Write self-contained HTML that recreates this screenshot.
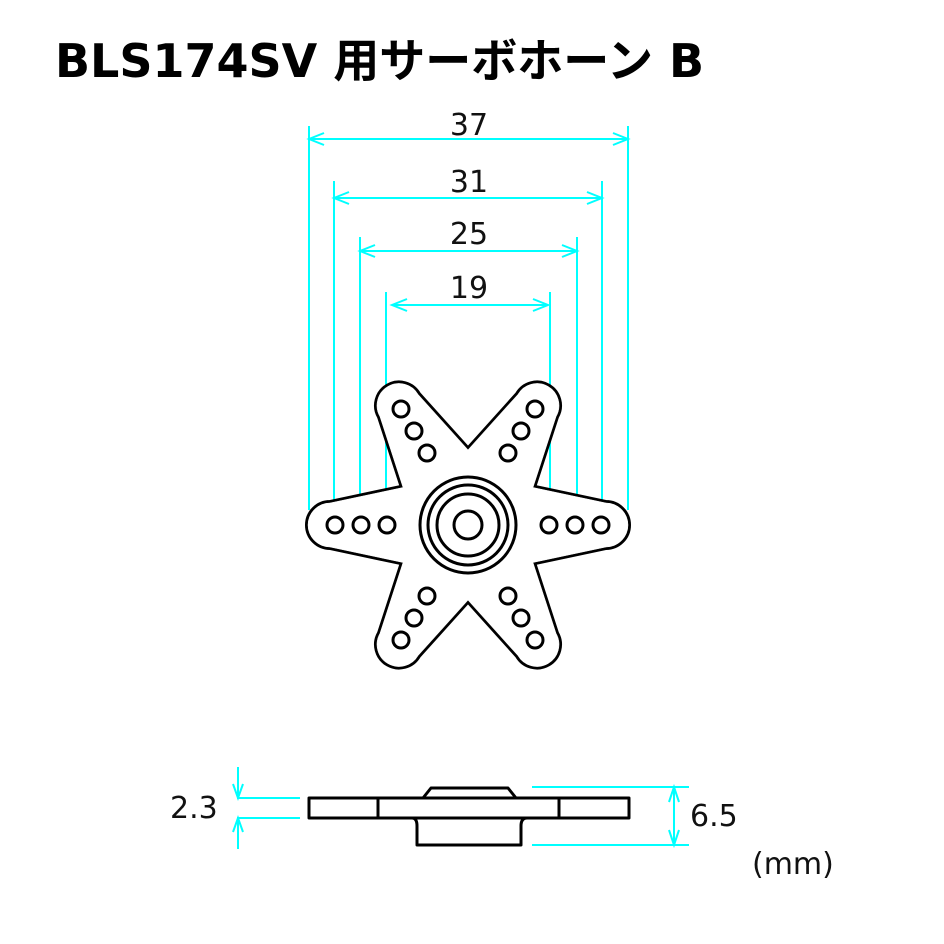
<!DOCTYPE html>
<html><head><meta charset="utf-8"><style>
html,body{margin:0;padding:0;background:#fff;}
svg{display:block}
</style></head><body>
<svg width="944" height="944" viewBox="0 0 944 944" xmlns="http://www.w3.org/2000/svg">
<text x="55" y="77" font-family="'DejaVu Sans','Noto Sans CJK JP',sans-serif" font-weight="bold" font-size="46" fill="#000">BLS174SV 用サーボホーン B</text>

<g stroke="#00ffff" stroke-width="2" fill="none">
<line x1="309" y1="126" x2="309" y2="510"/><line x1="628" y1="126" x2="628" y2="510"/>
<line x1="334" y1="181" x2="334" y2="500"/><line x1="602" y1="181" x2="602" y2="500"/>
<line x1="360" y1="237" x2="360" y2="500"/><line x1="577" y1="237" x2="577" y2="500"/>
<line x1="386" y1="292" x2="386" y2="495"/><line x1="550" y1="292" x2="550" y2="495"/>
<line x1="309" y1="139" x2="628" y2="139"/><polyline points="324,133 309,139 324,145"/><polyline points="613,133 628,139 613,145"/>
<line x1="334" y1="198" x2="602" y2="198"/><polyline points="349,192 334,198 349,204"/><polyline points="587,192 602,198 587,204"/>
<line x1="360" y1="251" x2="577" y2="251"/><polyline points="375,245 360,251 375,257"/><polyline points="562,245 577,251 562,257"/>
<line x1="392" y1="305" x2="548" y2="305"/><polyline points="407,299 392,305 407,311"/><polyline points="533,299 548,305 533,311"/>
<line x1="237" y1="798" x2="300" y2="798"/><line x1="237" y1="818" x2="300" y2="818"/>
<line x1="238" y1="767" x2="238" y2="798"/><polyline points="233,784 238,798 243,784"/>
<line x1="238" y1="818" x2="238" y2="849"/><polyline points="233,832 238,818 243,832"/>
<line x1="532" y1="787" x2="689" y2="787"/><line x1="532" y1="845" x2="689" y2="845"/>
<line x1="674" y1="787" x2="674" y2="845"/><polyline points="669,802 674,787 679,802"/><polyline points="669,830 674,845 679,830"/>
</g>
<g font-family="'DejaVu Sans',sans-serif" font-size="30" fill="#111" text-anchor="middle">
<text x="469" y="135">37</text><text x="469" y="192">31</text><text x="469" y="244">25</text><text x="469" y="298">19</text>
</g>
<g font-family="'DejaVu Sans',sans-serif" font-size="30" fill="#111">
<text x="170" y="818">2.3</text><text x="690" y="826">6.5</text><text x="752" y="874">(mm)</text>
</g>

<defs><path id="arm" d="M0,-40 L65,-37.5 L138,-22 A22,22 0 0 1 138,22 L65,37.5 L0,40 Z"/></defs>
<g transform="translate(468,525)">
<g fill="#000" stroke="#000" stroke-width="6" stroke-linejoin="round">
<use href="#arm" transform="rotate(0)"/><use href="#arm" transform="rotate(60)"/><use href="#arm" transform="rotate(120)"/>
<use href="#arm" transform="rotate(180)"/><use href="#arm" transform="rotate(240)"/><use href="#arm" transform="rotate(300)"/>
</g>
<g fill="#fff" stroke="#fff" stroke-width="0.5" stroke-linejoin="round">
<use href="#arm" transform="rotate(0)"/><use href="#arm" transform="rotate(60)"/><use href="#arm" transform="rotate(120)"/>
<use href="#arm" transform="rotate(180)"/><use href="#arm" transform="rotate(240)"/><use href="#arm" transform="rotate(300)"/>
</g>
<g fill="none" stroke="#000" stroke-width="3">
<circle r="48"/><circle r="40"/><circle r="31"/><circle r="14"/>
</g>
</g>
<g fill="none" stroke="#000" stroke-width="3">
<circle cx="335" cy="525" r="8"/><circle cx="361" cy="525" r="8"/><circle cx="387" cy="525" r="8"/>
<circle cx="549" cy="525" r="8"/><circle cx="575" cy="525" r="8"/><circle cx="601" cy="525" r="8"/>
<circle cx="401" cy="409" r="8"/><circle cx="414" cy="431" r="8"/><circle cx="427" cy="453" r="8"/>
<circle cx="535" cy="409" r="8"/><circle cx="521" cy="431" r="8"/><circle cx="508" cy="453" r="8"/>
<circle cx="427" cy="596" r="8"/><circle cx="414" cy="618" r="8"/><circle cx="401" cy="640" r="8"/>
<circle cx="508" cy="596" r="8"/><circle cx="521" cy="618" r="8"/><circle cx="535" cy="640" r="8"/>
</g>

<g fill="none" stroke="#000" stroke-width="3" stroke-linejoin="round">
<rect x="309" y="798" width="320" height="20"/>
<line x1="378" y1="798" x2="378" y2="818"/><line x1="559" y1="798" x2="559" y2="818"/>
<polyline points="423,798 431,788 508,788 516,798"/>
<path d="M412,818 Q417,818 417,826 L417,845 L521,845 L521,826 Q521,818 527,818"/>
</g>
</svg>
</body></html>
